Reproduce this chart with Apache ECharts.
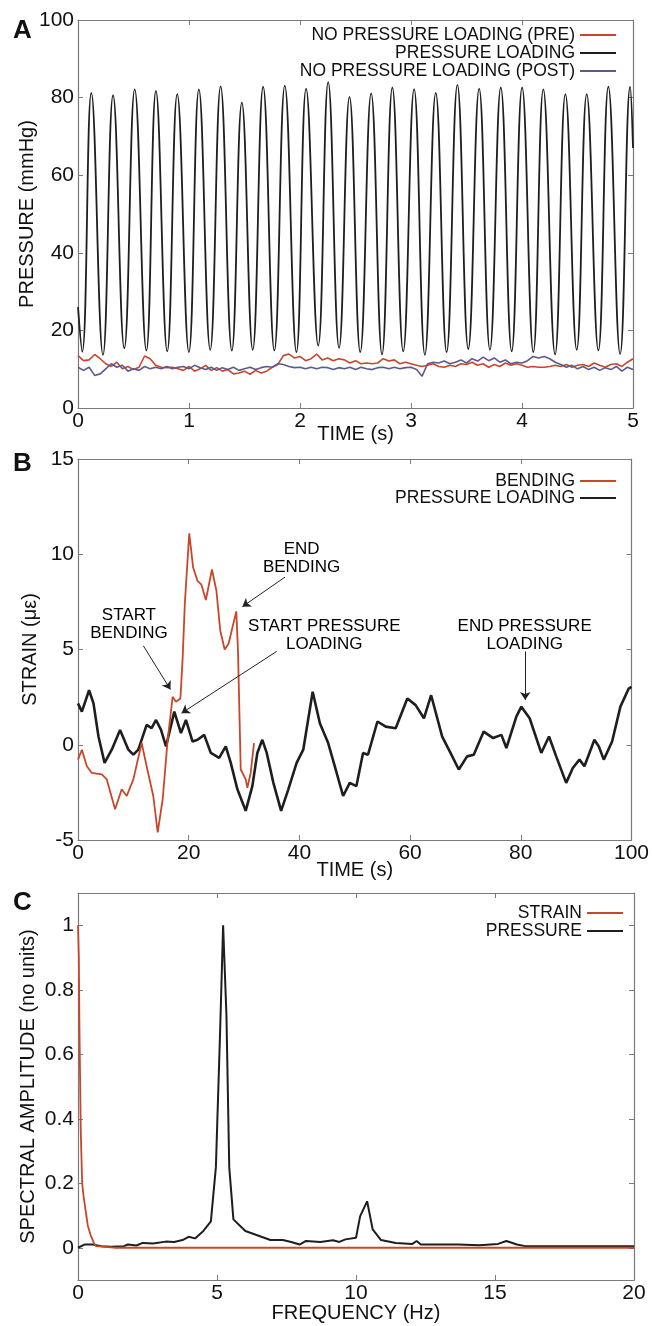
<!DOCTYPE html>
<html>
<head>
<meta charset="utf-8">
<script src="https://cdn.jsdelivr.net/npm/echarts@6/dist/echarts.min.js"></script>
<style>
html,body{margin:0;padding:0;background:#fff}
#main{width:652px;height:1326px}
</style>
</head>
<body>
<div id="main"></div>
<script>
// ---- panel A : pressure vs time ----
var preLoading = [13.5,12.2,12.4,13.8,12.7,11.4,10.7,11.8,10.1,10.7,9.9,10.5,13.4,12.7,11.0,10.5,10.4,10.5,10.1,9.7,
  10.7,9.5,10.1,11.0,9.7,10.4,9.5,9.9,8.8,9.0,9.5,8.7,9.7,9.0,9.5,10.5,11.2,13.5,13.9,12.9,
  13.3,12.2,12.7,13.9,12.4,12.9,12.2,12.7,12.4,11.6,12.2,11.4,11.6,11.4,11.6,12.7,12.1,12.4,11.4,11.8,
  11.4,11.0,10.7,11.0,11.4,10.7,10.5,11.0,10.7,11.4,11.2,11.8,11.0,11.4,10.5,11.2,10.7,11.6,11.0,11.4,
  11.0,10.5,10.7,10.5,10.5,10.7,11.0,10.7,11.2,10.5,11.0,11.2,10.7,11.6,11.0,10.5,11.2,11.4,10.7,11.8,12.7];
var postLoading = [10.5,9.7,10.5,8.4,8.8,10.1,11.4,10.5,11.0,9.5,10.1,9.7,10.7,10.1,10.5,10.1,10.7,10.1,10.5,10.7,
  10.1,11.0,10.4,9.9,10.5,9.7,10.4,9.9,10.5,9.7,10.1,10.5,9.9,10.4,10.7,10.5,11.4,11.2,10.7,10.4,
  10.5,10.1,10.5,10.1,10.5,10.4,9.9,10.4,10.1,10.5,9.9,10.5,10.1,9.9,10.4,10.5,10.1,10.5,10.1,10.4,
  10.5,9.9,8.2,11.4,11.8,11.6,12.1,11.4,11.8,12.4,11.6,12.7,12.1,13.1,12.2,12.9,11.8,12.4,11.4,11.8,
  11.6,12.2,13.3,12.9,13.3,12.7,11.8,11.2,10.5,11.0,10.1,10.7,9.9,10.5,9.7,10.4,9.9,10.7,9.5,10.5,9.9];
var loadT = [0,0.038,0.120,0.225,0.316,0.417,0.511,0.616,0.702,0.804,0.894,0.999,1.089,1.191,1.285,1.386,1.476,1.574,
  1.668,1.769,1.863,1.968,2.055,2.164,2.254,2.352,2.446,2.543,2.641,2.739,2.832,2.930,3.028,3.125,3.223,3.321,
  3.418,3.516,3.614,3.711,3.809,3.907,4.001,4.102,4.192,4.298,4.391,4.493,4.583,4.688,4.778,4.884,4.974,5.0];
var loadV = [26,14.5,81.2,13.7,80.6,15.4,82.1,14.8,81.7,14.6,80.9,14.4,82.1,15.0,82.9,14.8,78.7,15.0,
  82.8,14.8,83.1,14.4,82.3,16.1,84.0,15.5,80.2,14.4,81.1,13.8,82.6,14.6,82.2,13.7,81.2,14.4,
  83.3,15.2,82.3,15.0,82.6,14.6,82.6,14.4,82.1,13.8,80.9,15.0,80.9,14.8,82.8,13.9,82.8,67];

// ---- panel B : strain vs time ----
var bendT = [0,0.7,1.6,2.5,4.3,5.2,6.7,7.9,8.8,10.0,11.5,12.4,13.6,14.4,15.3,16.2,17.1,17.7,18.5,18.9,
  19.3,20.1,20.8,21.6,22.3,23.1,24.2,25.0,25.7,26.5,27.2,28.6,28.9,29.4,30.3,30.6,31.2,31.8];
var bendV = [-0.78,-0.26,-1.13,-1.48,-1.56,-1.82,-3.39,-2.34,-2.69,-1.82,0.09,-1.13,-2.69,-4.6,-2.86,0.26,2.52,2.26,2.43,4.5,
  7.4,11.1,9.3,8.6,8.4,7.6,9.2,8.1,6.0,5.0,5.3,7.0,5.0,-1.3,-1.82,-2.26,-1.48,0.09];
var strainT = [0,0.7,2.0,2.8,3.7,4.8,6.1,7.6,9.1,10.0,10.9,12.4,13.3,14.1,15.0,15.9,17.4,18.6,19.5,20.7,
  21.6,22.8,24.0,25.5,26.7,27.6,28.8,30.3,31.5,32.4,33.3,34.1,35.3,36.7,38.0,39.5,40.7,42.4,43.7,45.2,
  46.4,47.9,49.1,50.3,51.5,52.4,54.1,55.6,57.4,59.5,61.0,62.5,63.8,65.8,67.3,68.8,70.3,71.5,73.3,75.0,
  76.5,77.4,79.2,80.1,81.6,83.7,85.1,86.4,88.2,89.4,90.6,91.5,93.3,94.1,95.0,96.5,98.0,99.5,100];
var strainV = [2.17,1.74,2.86,2.17,0.43,-0.95,-0.26,0.78,-0.26,-0.52,-0.26,1.04,0.87,1.3,0.78,-0.09,1.74,0.61,1.3,0.17,
  0.26,0.52,-0.43,-0.69,-0.09,-0.95,-2.34,-3.47,-2.17,-0.43,0.26,-0.43,-2.0,-3.47,-2.34,-0.95,-0.26,2.78,1.13,0.09,
  -1.13,-2.69,-2.0,-2.17,-0.43,-0.52,1.22,0.95,0.87,2.43,2.08,1.39,2.6,0.43,-0.43,-1.3,-0.61,-0.52,0.69,0.35,
  0.52,-0.17,1.48,2.0,1.39,-0.43,0.43,-0.61,-2.0,-1.22,-0.78,-1.13,0.26,-0.09,-0.78,0.17,2.0,2.95,3.04];

// ---- panel C : spectra ----
var freqP = [0,0.23,0.53,0.83,1.2,1.65,1.8,2.1,2.33,2.7,3.16,3.46,3.76,3.98,4.21,4.51,4.78,4.96,5.11,5.22,5.34,5.44,
  5.59,6.02,6.47,6.92,7.37,7.67,7.97,8.2,8.72,9.17,9.4,9.62,10.0,10.15,10.4,10.6,10.9,11.43,12.03,12.18,12.33,
  13.08,13.68,14.44,15.11,15.41,15.79,16.09,16.69,17.44,18.2,19.1,20];
var ampP = [0,0.01,0.01,0.005,0.003,0.005,0.01,0.007,0.015,0.013,0.019,0.018,0.024,0.034,0.029,0.052,0.082,0.25,0.665,1.0,0.72,0.25,
  0.088,0.052,0.038,0.024,0.024,0.018,0.01,0.021,0.018,0.023,0.018,0.026,0.031,0.098,0.144,0.057,0.024,0.015,0.012,0.021,0.01,
  0.01,0.01,0.008,0.012,0.021,0.01,0.005,0.005,0.005,0.005,0.005,0.005];
var freqS = [0,0.03,0.05,0.07,0.1,0.15,0.2,0.25,0.3,0.35,0.4,0.45,0.5,0.57,0.65,0.7,1.0,1.35,20];
var ampS = [1.0,0.9,0.7,0.56,0.36,0.2,0.16,0.13,0.1,0.07,0.055,0.04,0.03,0.015,0.005,0,0.003,0,0];

var RED = '#c8472b', BLACK = '#1e1e1e', BLUE = '#5b5b8e', FRAME = '#7a7a7a';
var FONT = 'Liberation Sans, Arial, sans-serif';

function zip(xs, ys) {
    return xs.map(function (x, i) { return [x, ys[i]]; });
}
var timeA = preLoading.map(function (v, i) { return +(i * 0.05).toFixed(2); });

function mainX(grid, min, max, interval, name, gap) {
    return {
        type: 'value', gridIndex: grid, min: min, max: max, interval: interval,
        name: name, nameLocation: 'middle', nameGap: gap, nameMoveOverlap: false,
        nameTextStyle: { fontSize: 20, color: '#111', fontFamily: FONT },
        axisLine: { onZero: false, lineStyle: { color: FRAME, width: 1.2 } },
        axisTick: { inside: true, length: 5, lineStyle: { color: FRAME } },
        axisLabel: { fontSize: 21, color: '#111', margin: 3, fontFamily: FONT },
        splitLine: { show: false }
    };
}
function mainY(grid, min, max, interval, name, gap) {
    return {
        type: 'value', gridIndex: grid, min: min, max: max, interval: interval,
        name: name, nameLocation: 'middle', nameGap: gap, nameMoveOverlap: false,
        nameTextStyle: { fontSize: 20, color: '#111', fontFamily: FONT },
        axisLine: { show: true, onZero: false, lineStyle: { color: FRAME, width: 1.2 } },
        axisTick: { show: true, inside: true, length: 5, lineStyle: { color: FRAME } },
        axisLabel: { fontSize: 21, color: '#111', margin: 4, fontFamily: FONT },
        splitLine: { show: false }
    };
}
// top / right edges of each box, ticks only
function edgeAxis(grid, pos, min, max, interval) {
    return {
        type: 'value', gridIndex: grid, position: pos, min: min, max: max, interval: interval,
        axisLine: { show: true, onZero: false, lineStyle: { color: FRAME, width: 1.2 } },
        axisTick: { show: true, inside: true, length: 5, lineStyle: { color: FRAME } },
        axisLabel: { show: false },
        splitLine: { show: false }
    };
}

var myChart = echarts.init(document.getElementById('main'));

var yC = mainY(2, -0.1, 1.1, 0.1, 'SPECTRAL AMPLITUDE (no units)', 40);
yC.axisLabel.customValues = [0, 0.2, 0.4, 0.6, 0.8, 1];
yC.axisTick.customValues = [0, 0.2, 0.4, 0.6, 0.8, 1];
var yCr = edgeAxis(2, 'right', -0.1, 1.1, 0.1);
yCr.axisTick.customValues = [0, 0.2, 0.4, 0.6, 0.8, 1];

var legendText = { fontSize: 17.5, color: '#111', fontFamily: FONT, lineHeight: 17 };
var letterStyle = { fontSize: 26, fontWeight: 'bold', color: '#111', fontFamily: FONT };

option = {
    animation: false,
    backgroundColor: '#fff',
    title: [
        { text: 'A', left: 8, top: 13, textStyle: letterStyle },
        { text: 'B', left: 8, top: 446, textStyle: letterStyle },
        { text: 'C', left: 8, top: 885, textStyle: letterStyle }
    ],
    grid: [
        { left: 78, right: 19, top: 20, height: 388 },
        { left: 78, right: 19, top: 459, height: 381 },
        { left: 78, right: 18, top: 893, height: 387 }
    ],
    legend: [
        { data: ['NO PRESSURE LOADING (PRE)', 'PRESSURE LOADING', 'NO PRESSURE LOADING (POST)'],
          orient: 'vertical', align: 'right', right: 31, top: 21, itemWidth: 36, itemHeight: 2, itemGap: 0,
          icon: 'rect', textStyle: legendText, selectedMode: false },
        { data: ['BENDING', 'PRESSURE LOADING'],
          orient: 'vertical', align: 'right', right: 31, top: 467, itemWidth: 36, itemHeight: 2, itemGap: -1,
          icon: 'rect', textStyle: legendText, selectedMode: false },
        { data: ['STRAIN', 'PRESSURE'],
          orient: 'vertical', align: 'right', right: 24, top: 899, itemWidth: 36, itemHeight: 2, itemGap: 0,
          icon: 'rect', textStyle: legendText, selectedMode: false }
    ],
    xAxis: [
        mainX(0, 0, 5, 1, 'TIME (s)', 16), edgeAxis(0, 'top', 0, 5, 1),
        mainX(1, 0, 100, 20, 'TIME (s)', 20), edgeAxis(1, 'top', 0, 100, 20),
        mainX(2, 0, 20, 5, 'FREQUENCY (Hz)', 23), edgeAxis(2, 'top', 0, 20, 5)
    ],
    yAxis: [
        mainY(0, 0, 100, 20, 'PRESSURE (mmHg)', 41), edgeAxis(0, 'right', 0, 100, 20),
        mainY(1, -5, 15, 5, 'STRAIN (\u03bc\u03b5)', 38), edgeAxis(1, 'right', -5, 15, 5),
        yC, yCr
    ],
    series: [
        { name: 'PRESSURE LOADING', type: 'line', xAxisIndex: 0, yAxisIndex: 0, symbol: 'none', smooth: 0.45,
          lineStyle: { color: BLACK, width: 1.8 }, itemStyle: { color: BLACK }, data: zip(loadT, loadV) },
        { name: 'NO PRESSURE LOADING (PRE)', type: 'line', xAxisIndex: 0, yAxisIndex: 0, symbol: 'none',
          lineStyle: { color: RED, width: 1.6 }, itemStyle: { color: RED }, data: zip(timeA, preLoading) },
        { name: 'NO PRESSURE LOADING (POST)', type: 'line', xAxisIndex: 0, yAxisIndex: 0, symbol: 'none',
          lineStyle: { color: BLUE, width: 1.6 }, itemStyle: { color: BLUE }, data: zip(timeA, postLoading) },

        { name: 'PRESSURE LOADING', type: 'line', xAxisIndex: 2, yAxisIndex: 2, symbol: 'none',
          lineStyle: { color: BLACK, width: 2.6 }, itemStyle: { color: BLACK }, data: zip(strainT, strainV) },
        { name: 'BENDING', type: 'line', xAxisIndex: 2, yAxisIndex: 2, symbol: 'none',
          lineStyle: { color: RED, width: 1.8 }, itemStyle: { color: RED }, data: zip(bendT, bendV) },
        // annotations
        { type: 'scatter', xAxisIndex: 2, yAxisIndex: 2, symbolSize: 0, silent: true,
          itemStyle: { color: '#000' },
          label: { show: true, position: 'inside', formatter: '{b}', fontSize: 17, lineHeight: 18,
                   color: '#000', opacity: 1, textBorderWidth: 0, fontFamily: FONT,
                   align: 'center', verticalAlign: 'middle' },
          data: [
              { name: 'START\nBENDING', value: [9.2, 6.3] },
              { name: 'END\nBENDING', value: [40.4, 9.8] },
              { name: 'START PRESSURE\nLOADING', value: [44.5, 5.75] },
              { name: 'END PRESSURE\nLOADING', value: [80.7, 5.75] }
          ],
          markLine: {
              silent: true, symbol: ['none', 'arrow'], symbolSize: 8,
              label: { show: false },
              lineStyle: { color: '#222', width: 1, type: 'solid' },
              data: [
                  [{ coord: [11.8, 5.2] }, { coord: [16.7, 2.9] }],
                  [{ coord: [37.4, 8.8] }, { coord: [29.7, 7.25] }],
                  [{ coord: [35.9, 4.9] }, { coord: [18.7, 1.66] }],
                  [{ coord: [80.8, 4.9] }, { coord: [80.8, 2.35] }]
              ]
          }
        },

        { name: 'PRESSURE', type: 'line', xAxisIndex: 4, yAxisIndex: 4, symbol: 'none',
          lineStyle: { color: BLACK, width: 2 }, itemStyle: { color: BLACK }, data: zip(freqP, ampP) },
        { name: 'STRAIN', type: 'line', xAxisIndex: 4, yAxisIndex: 4, symbol: 'none',
          lineStyle: { color: RED, width: 1.8 }, itemStyle: { color: RED }, data: zip(freqS, ampS) }
    ]
};

myChart.setOption(option);
</script>
</body>
</html>
